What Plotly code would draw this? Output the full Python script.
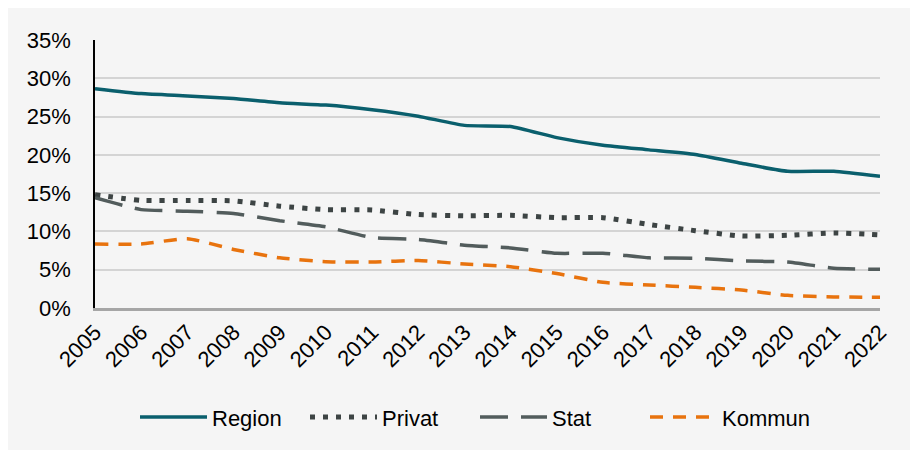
import plotly.graph_objects as go

years = list(range(2005, 2023))
region = [28.65, 28.0, 27.7, 27.35, 26.8, 26.5, 25.9, 25.05, 23.85, 23.7, 22.25, 21.25, 20.65, 20.05, 18.9, 17.85, 17.85, 17.2]
privat = [14.8, 14.05, 14.05, 14.0, 13.3, 12.85, 12.8, 12.2, 12.05, 12.1, 11.8, 11.8, 10.9, 10.1, 9.4, 9.5, 9.8, 9.55]
stat = [14.4, 12.85, 12.65, 12.35, 11.4, 10.6, 9.2, 8.95, 8.2, 7.85, 7.15, 7.15, 6.55, 6.5, 6.15, 6.0, 5.2, 5.05]
kommun = [8.35, 8.35, 9.05, 7.65, 6.55, 6.05, 6.0, 6.2, 5.75, 5.4, 4.5, 3.35, 3.0, 2.7, 2.35, 1.65, 1.45, 1.4]
y_ticks = [0, 5, 10, 15, 20, 25, 30, 35]

FONT = "Liberation Sans, Arial, sans-serif"

fig = go.Figure()
series = [
    ("Region", region, dict(color="#0a5f6d", width=3.5, dash="solid")),
    ("Privat", privat, dict(color="#3d4444", width=5, dash="5px,8px")),
    ("Stat", stat, dict(color="#525c5c", width=3.5, dash="28px,13px")),
    ("Kommun", kommun, dict(color="#e8730e", width=3.5, dash="13px,10px")),
]
for name, vals, line in series:
    fig.add_trace(go.Scatter(
        x=years, y=[v / 100 for v in vals], name=name, mode="lines",
        line=dict(shape="spline", smoothing=0.5, **line),
        xaxis="x2", yaxis="y", hoverinfo="skip",
    ))

# page has an 8px body margin; figure coordinates = page - 8
W, H = 918, 442
L, T = 87, 32
R = W - (880 - 8)
B = H - (310 - 8)
pw, ph = W - L - R, H - T - B

fig.update_layout(
    width=W, height=H,
    margin=dict(l=L, r=R, t=T, b=B),
    paper_bgcolor="#f5f5f5",
    plot_bgcolor="#f5f5f5",
    font=dict(family=FONT, size=22, color="#000000"),
    showlegend=True,
    legend=dict(orientation="h", x=(135 - 8 - L) / pw, xanchor="left",
                y=(T + ph - (420 - 8)) / ph,
                yanchor="middle", font=dict(size=22), itemwidth=67,
                entrywidth=88, entrywidthmode="pixels",
                bgcolor="rgba(0,0,0,0)"),
    xaxis=dict(range=[2005, 2022], dtick=5, tick0=2005, showgrid=True,
               gridcolor="#d4d4d4", gridwidth=2, showticklabels=False,
               zeroline=False, showline=False, fixedrange=True),
    xaxis2=dict(range=[2005, 2022], overlaying="x", side="bottom",
                tickmode="array", tickvals=years, ticktext=[str(y) for y in years],
                tickangle=-45, showgrid=False, zeroline=False,
                showline=True, linecolor="#a6a6a6", linewidth=2.5,
                ticks="", tickfont=dict(size=22)),
    yaxis=dict(range=[0, 0.35], tickvals=[v / 100 for v in y_ticks],
               ticktext=[f"{v}%" for v in y_ticks],
               showgrid=True, gridcolor="#d4d4d4", gridwidth=2,
               zeroline=False, showline=True, linecolor="#000000", linewidth=1.5,
               ticks="", ticklabelstandoff=18, tickfont=dict(size=22)),
)

fig.write_html("out.html", default_width=f"{W}px", default_height=f"{H}px",
               post_script="document.body.style.overflow='hidden';")
